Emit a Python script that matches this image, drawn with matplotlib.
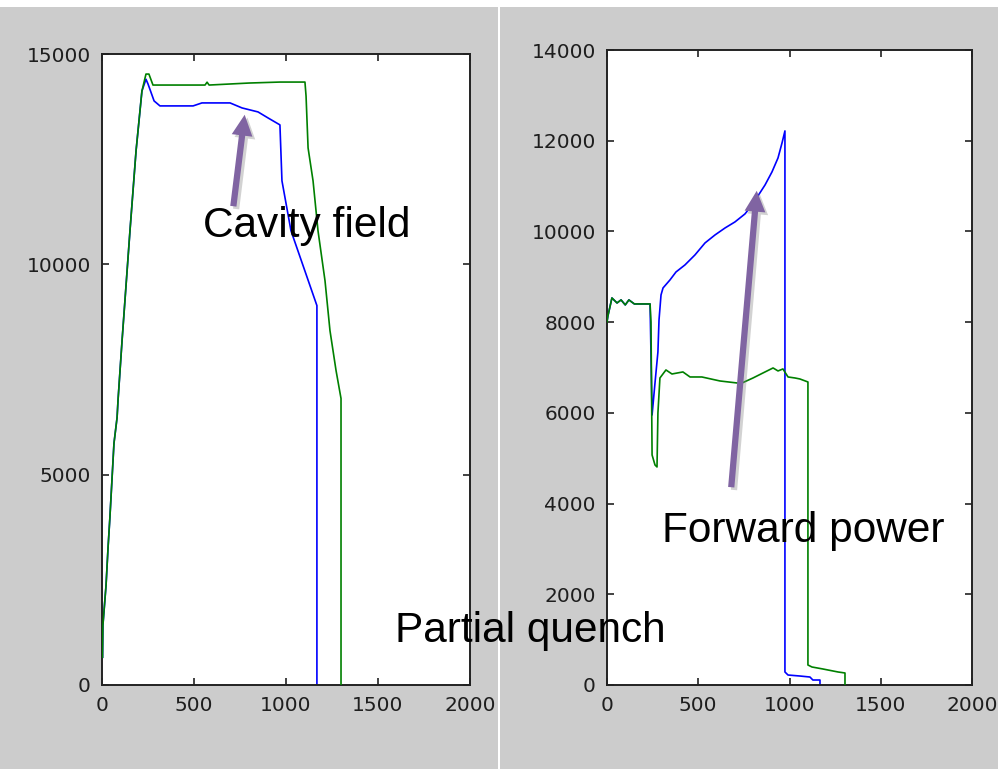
import matplotlib
matplotlib.use("Agg")
import matplotlib.pyplot as plt
from matplotlib.patches import Rectangle, FancyArrowPatch
import matplotlib.patheffects as pe

# ---------------- data ----------------
x_ticks = [0, 500, 1000, 1500, 2000]
left_y_ticks = [0, 5000, 10000, 15000]
right_y_ticks = [0, 2000, 4000, 6000, 8000, 10000, 12000, 14000]

# left panel: cavity field (green) and second trace (blue)
left_green_t = [3, 5, 22, 33, 43, 54, 65, 82, 87, 109, 152, 185, 217, 239, 255,
                277, 424, 560, 571, 582, 800, 967, 1103, 1109, 1120, 1147, 1174,
                1212, 1239, 1272, 1299, 1299]
left_green_v = [660, 1424, 2373, 3275, 3987, 4865, 5743, 6360, 6763, 8187, 10797,
                12696, 14120, 14523, 14523, 14262, 14262, 14262, 14330, 14262,
                14310, 14333, 14333, 14000, 12767, 11984, 10797, 9610, 8424,
                7475, 6811, 0]

left_blue_t = [3, 5, 22, 33, 43, 54, 65, 82, 87, 109, 152, 185, 217, 239, 250,
               283, 315, 495, 543, 696, 761, 848, 902, 967, 978, 1027, 1168, 1168]
left_blue_v = [660, 1424, 2373, 3275, 3987, 4865, 5743, 6360, 6763, 8187, 10797,
               12696, 14120, 14400, 14288, 13885, 13766, 13766, 13837, 13837,
               13718, 13623, 13481, 13315, 11986, 10799, 9019, 0]

# right panel: forward power (blue) and second trace (green)
right_green_t = [0, 5, 27, 55, 77, 100, 120, 150, 200, 236, 241, 247, 263, 274,
                 279, 290, 323, 356, 416, 455, 520, 619, 712, 740, 800, 855, 910,
                 937, 964, 992, 1030, 1057, 1101, 1101, 1123, 1183, 1266, 1304,
                 1304]
right_green_v = [8004, 8136, 8533, 8423, 8490, 8380, 8490, 8401, 8401, 8401, 8004,
                 5072, 4851, 4807, 5998, 6769, 6946, 6857, 6902, 6791, 6791, 6703,
                 6659, 6659, 6769, 6880, 6990, 6924, 6968, 6791, 6769, 6747, 6681,
                 441, 397, 353, 287, 265, 0]

right_blue_t = [0, 5, 27, 55, 77, 100, 120, 150, 200, 236, 247, 263, 279, 285,
                296, 307, 345, 378, 427, 482, 537, 592, 647, 701, 756, 795, 827,
                866, 904, 937, 959, 975, 975, 992, 1057, 1112, 1128, 1167, 1167]
right_blue_v = [8004, 8136, 8533, 8423, 8490, 8380, 8490, 8401, 8401, 8401, 5953,
                6659, 7343, 8048, 8600, 8754, 8930, 9106, 9261, 9482, 9746, 9923,
                10077, 10209, 10386, 10584, 10782, 11025, 11312, 11620, 11951,
                12216, 287, 220, 198, 176, 110, 110, 0]

labels = ["Cavity field", "Forward power", "Partial quench"]

# ---------------- figure ----------------
W, H = 998, 769
fig = plt.figure(figsize=(W / 100, H / 100), dpi=100, facecolor="white")
plt.rcParams["font.family"] = ["Liberation Sans", "DejaVu Sans"]

def fx(px):
    return px / W

def fy(py):
    return 1 - py / H

gray = "#cccccc"
fig.patches.append(Rectangle((0, 0), fx(498), fy(7), transform=fig.transFigure,
                             facecolor=gray, edgecolor="none", zorder=-10))
fig.patches.append(Rectangle((fx(500), 0), 1 - fx(500), fy(7), transform=fig.transFigure,
                             facecolor=gray, edgecolor="none", zorder=-10))

axL = fig.add_axes([fx(102), fy(685), fx(470) - fx(102), fy(54) - fy(685)])
axR = fig.add_axes([fx(607), fy(685), fx(972) - fx(607), fy(50) - fy(685)])

blue = "#0000ff"
green = "#008000"

axL.plot(left_blue_t, left_blue_v, color=blue, lw=1.2, zorder=2)
axL.plot(left_green_t, left_green_v, color=green, lw=1.2, zorder=3)
axR.plot(right_blue_t, right_blue_v, color=blue, lw=1.2, zorder=2)
axR.plot(right_green_t, right_green_v, color=green, lw=1.2, zorder=3)

for ax, yt, ymax in [(axL, left_y_ticks, 15000), (axR, right_y_ticks, 14000)]:
    ax.set_xlim(0, 2000)
    ax.set_ylim(0, ymax)
    ax.set_xticks(x_ticks)
    ax.set_yticks(yt)
    ax.set_xticklabels([str(v) for v in x_ticks], family="DejaVu Sans")
    ax.set_yticklabels([str(v) for v in yt], family="DejaVu Sans")
    ax.tick_params(direction="in", top=True, right=True, length=5, width=1.2,
                   labelsize=14.5, labelcolor="#1e1e1e", pad=8, color="#222222")
    for s in ax.spines.values():
        s.set_linewidth(1.4)
        s.set_color("#222222")
    ax.set_facecolor("white")

# annotation texts
fig.text(fx(203), fy(237), labels[0], fontsize=30.5, ha="left", va="baseline",
         color="black", zorder=10)
fig.text(fx(662), fy(542), labels[1], fontsize=30.5, ha="left", va="baseline",
         color="black", zorder=10)
fig.text(fx(395), fy(642), labels[2], fontsize=30.5, ha="left", va="baseline",
         color="black", zorder=10)

# arrows
purple = "#8064a2"
for (x0, y0), (x1, y1) in [((233, 209), (245, 112)), ((731, 490), (757, 188))]:
    arr = FancyArrowPatch((fx(x0), fy(y0)), (fx(x1), fy(y1)),
                          transform=fig.transFigure,
                          arrowstyle="simple,head_length=15,head_width=15,tail_width=4.5",
                          mutation_scale=1, facecolor=purple, edgecolor="none",
                          zorder=9)
    arr.set_path_effects([pe.SimplePatchShadow(offset=(2, -2), shadow_rgbFace="0.5",
                                               alpha=0.35), pe.Normal()])
    fig.add_artist(arr)

fig.savefig("out.png", dpi=100, facecolor="white")
